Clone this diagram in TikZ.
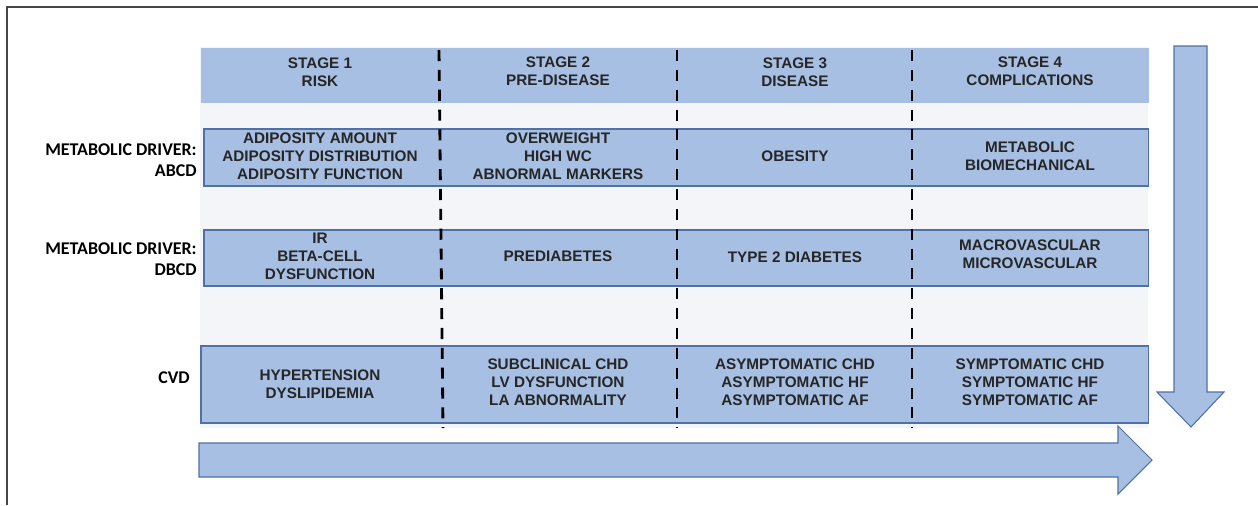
\documentclass[tikz,border=0pt]{standalone}
\usepackage{fontspec}
\setmainfont{Liberation Sans}
\newfontfamily\labelfont{Carlito}
\usetikzlibrary{positioning}
\definecolor{cellblue}{RGB}{167,191,226}
\definecolor{edgeblue}{RGB}{79,113,166}
\definecolor{panelgray}{RGB}{244,245,249}
\definecolor{framegray}{RGB}{70,70,70}

\tikzset{
	rowbox/.style={draw=edgeblue, line width=0.9pt, fill=cellblue, anchor=north west, inner sep=0pt, minimum width=18.9cm},
	celltext/.style={font=\bfseries\fontsize{8.7}{10.3}\selectfont, align=center, text=black!85},
	rowlabel/.style={font=\labelfont\bfseries\fontsize{10.2}{12.2}\selectfont, align=right, anchor=east, inner sep=0pt},
	bigarrow/.style={draw=edgeblue, fill=cellblue, line width=0.6pt, line join=miter}
}

\begin{document}
\begin{tikzpicture}[x=0.02cm, y=-0.02cm]
		\useasboundingbox (0,0) rectangle (1258,505);
		\draw [framegray, line width=0.8pt] (7,505)--(7,7)--(1258,7);
		
		% panel and rows
		\fill [panelgray] (200,47) rectangle (1148,428);
		\node [rowbox, draw=none, minimum width=18.96cm, minimum height=1.1cm] (stages) at (200,47) {};
		\node [rowbox, minimum height=1.14cm] (abcd) at (203,128) {};
		\node [rowbox, minimum height=1.12cm] (dbcd) at (203,229) {};
		\node [rowbox, minimum width=18.96cm, minimum height=1.54cm] (cvd) at (200,345) {};
		
		\foreach \x/\y in {439/443,677/677,912/912}{
			\draw [black, line width=1.6pt, dash pattern=on 6.3pt off 5pt] (\x,50)--(\y,428);
		}
		
		% stage headers
		\node [celltext] (s1) at (320,72) {STAGE 1\\RISK};
		\node [celltext] (s2) at (558,71) {STAGE 2\\PRE-DISEASE};
		\node [celltext] (s3) at (795,72) {STAGE 3\\DISEASE};
		\node [celltext] (s4) at (1030,71) {STAGE 4\\COMPLICATIONS};
		
		% row labels
		\node [rowlabel] (labcd) at (197,160) {METABOLIC DRIVER:\\ABCD};
		\node [rowlabel] (ldbcd) at (197,259) {METABOLIC DRIVER:\\DBCD};
		\node [rowlabel] (lcvd) at (190,378) {CVD};
		
		% cells
		\node [celltext] (a1) at (320,156) {ADIPOSITY AMOUNT\\ADIPOSITY DISTRIBUTION\\ADIPOSITY FUNCTION};
		\node [celltext] (a2) at (558,156) {OVERWEIGHT\\HIGH WC\\ABNORMAL MARKERS};
		\node [celltext] (a3) at (795,156) {OBESITY};
		\node [celltext] (a4) at (1030,156) {METABOLIC\\BIOMECHANICAL};
		\node [celltext] (d1) at (320,256) {IR\\BETA-CELL\\DYSFUNCTION};
		\node [celltext] (d2) at (558,256) {PREDIABETES};
		\node [celltext] (d3) at (795,257) {TYPE 2 DIABETES};
		\node [celltext] (d4) at (1030,254) {MACROVASCULAR\\MICROVASCULAR};
		\node [celltext] (c1) at (320,384) {HYPERTENSION\\DYSLIPIDEMIA};
		\node [celltext] (c2) at (558,382) {SUBCLINICAL CHD\\LV DYSFUNCTION\\LA ABNORMALITY};
		\node [celltext] (c3) at (795,382) {ASYMPTOMATIC CHD\\ASYMPTOMATIC HF\\ASYMPTOMATIC AF};
		\node [celltext] (c4) at (1030,382) {SYMPTOMATIC CHD\\SYMPTOMATIC HF\\SYMPTOMATIC AF};
		
		% arrows
		\draw [bigarrow] (199,443)--(1118,443)--(1118,426)--(1152,460)--(1118,494)--(1118,477)--(199,477)--cycle;
		\draw [bigarrow] (1174,46)--(1207,46)--(1207,392)--(1224,392)--(1191,427)--(1157,392)--(1174,392)--cycle;
		
	\end{tikzpicture}
\end{document}
